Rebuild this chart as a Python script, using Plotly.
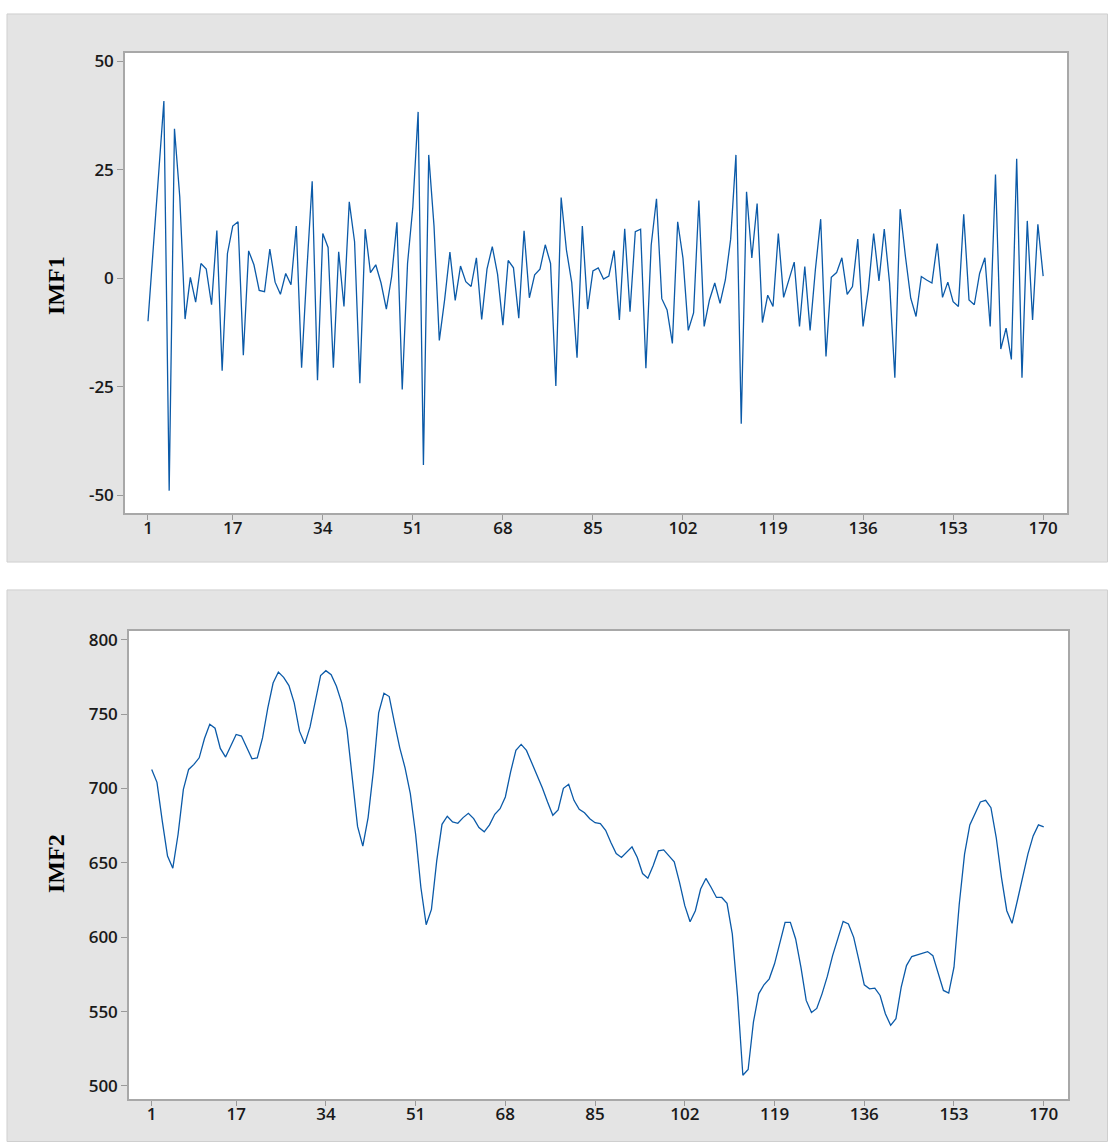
import plotly.graph_objects as go

W, H = 1108, 1142

index = list(range(1, 171))

imf1 = [
    -9.9, 7.0, 24.0, 40.8, -48.9, 34.4, 18.7, -9.4, 0.2, -5.5,
    3.4, 2.1, -6.1, 11.0, -21.3, 5.7, 12.0, 13.0, -17.7, 6.3,
    3.1, -2.8, -3.1, 6.7, -0.9, -3.7, 1.1, -1.5, 12.0, -20.6,
    2.0, 22.3, -23.5, 10.3, 7.1, -20.6, 6.1, -6.5, 17.6, 8.4,
    -24.2, 11.3, 1.3, 3.1, -1.1, -7.1, 0.4, 12.9, -25.6, 3.4,
    16.4, 38.3, -43.0, 28.4, 12.0, -14.3, -5.0, 6.0, -5.1, 2.8,
    -0.8, -1.9, 4.7, -9.5, 2.1, 7.3, 0.9, -10.8, 4.1, 2.4,
    -9.2, 10.9, -4.5, 0.8, 2.1, 7.7, 3.4, -24.8, 18.6, 6.5,
    -1.0, -18.3, 12.0, -7.1, 1.7, 2.4, -0.2, 0.5, 6.4, -9.6,
    11.4, -7.7, 10.7, 11.3, -20.7, 7.6, 18.3, -4.7, -7.3, -15.0,
    13.0, 4.6, -12.0, -8.0, 17.9, -11.1, -5.0, -1.1, -5.8, -0.4,
    9.0, 28.4, -33.5, 19.9, 4.7, 17.2, -10.2, -3.9, -6.5, 10.3,
    -4.4, -0.4, 3.7, -11.1, 2.7, -12.0, 2.0, 13.6, -18.0, 0.2,
    1.3, 4.7, -3.7, -1.9, 9.0, -11.1, -2.5, 10.3, -0.6, 11.3,
    -1.0, -22.9, 15.9, 5.0, -4.6, -8.8, 0.4, -0.4, -1.1, 8.0,
    -4.4, -0.9, -5.4, -6.5, 14.7, -5.0, -6.1, 1.1, 4.7, -11.1,
    23.9, -16.3, -11.5, -18.7, 27.5, -22.9, 13.2, -9.6, 12.4, 0.5,
]

imf2 = [
    712.8, 704.1, 678.2, 654.5, 646.4, 669.2, 699.4, 712.8, 716.2, 720.6,
    733.6, 743.2, 740.5, 726.9, 721.1, 728.5, 736.3, 735.2, 727.3, 719.9,
    720.6, 734.0, 754.1, 770.9, 778.3, 774.7, 769.2, 757.5, 738.5, 730.0,
    741.4, 758.6, 775.9, 779.2, 776.5, 768.7, 757.5, 739.6, 707.2, 674.5,
    661.2, 680.4, 711.7, 750.8, 764.0, 761.8, 744.1, 727.3, 713.9, 696.5,
    669.2, 633.4, 608.4, 618.7, 651.3, 675.9, 681.3, 677.5, 676.6, 680.4,
    683.3, 679.7, 673.7, 670.8, 675.5, 682.6, 686.4, 694.3, 711.2, 725.6,
    729.6, 725.6, 717.3, 709.0, 700.5, 690.9, 682.0, 685.5, 700.1, 702.8,
    692.0, 686.0, 683.7, 679.7, 677.0, 676.4, 671.9, 663.6, 656.2, 653.6,
    657.4, 660.7, 653.6, 642.8, 639.7, 648.0, 658.0, 658.7, 654.7, 650.7,
    636.9, 621.2, 610.4, 617.8, 632.4, 639.5, 633.4, 626.7, 626.7, 622.7,
    602.2, 560.0, 507.2, 511.0, 542.9, 561.9, 568.0, 572.0, 582.1, 595.5,
    610.0, 610.0, 598.8, 579.8, 557.5, 549.4, 552.1, 561.9, 573.6, 587.6,
    599.9, 610.6, 608.9, 599.9, 584.3, 568.0, 565.3, 565.7, 560.8, 548.5,
    540.7, 545.2, 566.4, 580.9, 587.0, 588.1, 589.2, 590.3, 587.6, 575.3,
    564.2, 562.4, 579.8, 622.3, 655.8, 675.5, 683.7, 690.9, 692.0, 687.1,
    667.0, 640.1, 617.8, 609.3, 624.5, 640.1, 655.8, 668.1, 675.5, 674.1,
]

x_ticks = [1, 17, 34, 51, 68, 85, 102, 119, 136, 153, 170]
y1_ticks = [50, 25, 0, -25, -50]
y1_labels = ["50", "25", "0", "-25", "-50"]
y2_ticks = [800, 750, 700, 650, 600, 550, 500]
y2_labels = ["800", "750", "700", "650", "600", "550", "500"]
titles = ["IMF1", "IMF2"]

LINE = "#0b5aa8"
PANEL = "#e4e4e4"
PANEL_BORDER = "#cfcfcf"
FRAME = "#a8a8a8"
TICKC = "#9a9a9a"


def px(x):
    return x / W


def py(y):
    return 1 - y / H


fig = go.Figure()
fig.add_trace(go.Scatter(x=index, y=imf1, mode="lines", line=dict(color=LINE, width=1.3),
                         xaxis="x", yaxis="y", showlegend=False, hoverinfo="skip"))
fig.add_trace(go.Scatter(x=index, y=imf2, mode="lines", line=dict(color=LINE, width=1.3),
                         xaxis="x2", yaxis="y2", showlegend=False, hoverinfo="skip"))

tickfont = dict(family="Open Sans", size=17, color="#1a1a1a", weight=600)
titlefont = dict(family="Liberation Serif", size=24, color="black", weight="bold")

common_x = dict(
    tickmode="array", tickvals=x_ticks, ticktext=[str(v) for v in x_ticks],
    ticks="outside", ticklen=5, tickcolor=TICKC, tickwidth=1,
    showgrid=False, zeroline=False, showline=True, linecolor=FRAME, linewidth=1.5,
    mirror=True, tickfont=tickfont, ticklabelstandoff=-6,
)
common_y = dict(
    tickmode="array", ticks="outside", ticklen=6, tickcolor=TICKC, tickwidth=1,
    showgrid=False, zeroline=False, showline=True, linecolor=FRAME, linewidth=1.5,
    mirror=True, tickfont=tickfont,
)

fig.update_layout(
    width=W, height=H,
    margin=dict(l=0, r=0, t=0, b=0),
    paper_bgcolor="white", plot_bgcolor="white",
    xaxis=dict(domain=[px(125), px(1067)], range=[-3.34, 174.5], anchor="y", **common_x),
    yaxis=dict(domain=[py(511), py(49)], range=[-54.1, 51.9], anchor="x",
               tickvals=y1_ticks, ticktext=y1_labels, **common_y),
    xaxis2=dict(domain=[px(129), px(1068)], range=[-3.3, 174.6], anchor="y2", **common_x),
    yaxis2=dict(domain=[py(1099), py(629)], range=[491.1, 806.0], anchor="x2",
                tickvals=y2_ticks, ticktext=y2_labels, **common_y),
    shapes=[
        dict(type="rect", xref="paper", yref="paper", x0=px(7), x1=px(1107.5), y0=py(560), y1=py(10),
             fillcolor=PANEL, line=dict(color=PANEL_BORDER, width=1), layer="below"),
        dict(type="rect", xref="paper", yref="paper", x0=px(7), x1=px(1107.5), y0=py(1141.5), y1=py(588),
             fillcolor=PANEL, line=dict(color=PANEL_BORDER, width=1), layer="below"),
        dict(type="rect", xref="x domain", yref="y domain", x0=0, x1=1, y0=0, y1=1,
             fillcolor="white", line=dict(width=0), layer="below"),
        dict(type="rect", xref="x2 domain", yref="y2 domain", x0=0, x1=1, y0=0, y1=1,
             fillcolor="white", line=dict(width=0), layer="below"),
    ],
    annotations=[
        dict(text=titles[0], xref="paper", yref="paper", x=px(56), y=py(282), showarrow=False,
             textangle=-90, font=titlefont, xanchor="center", yanchor="middle"),
        dict(text=titles[1], xref="paper", yref="paper", x=px(56), y=py(862), showarrow=False,
             textangle=-90, font=titlefont, xanchor="center", yanchor="middle"),
    ],
)

fig.write_html("out.html", config={"displayModeBar": False},
               post_script="document.body.style.margin='0';document.body.style.overflow='hidden';")
